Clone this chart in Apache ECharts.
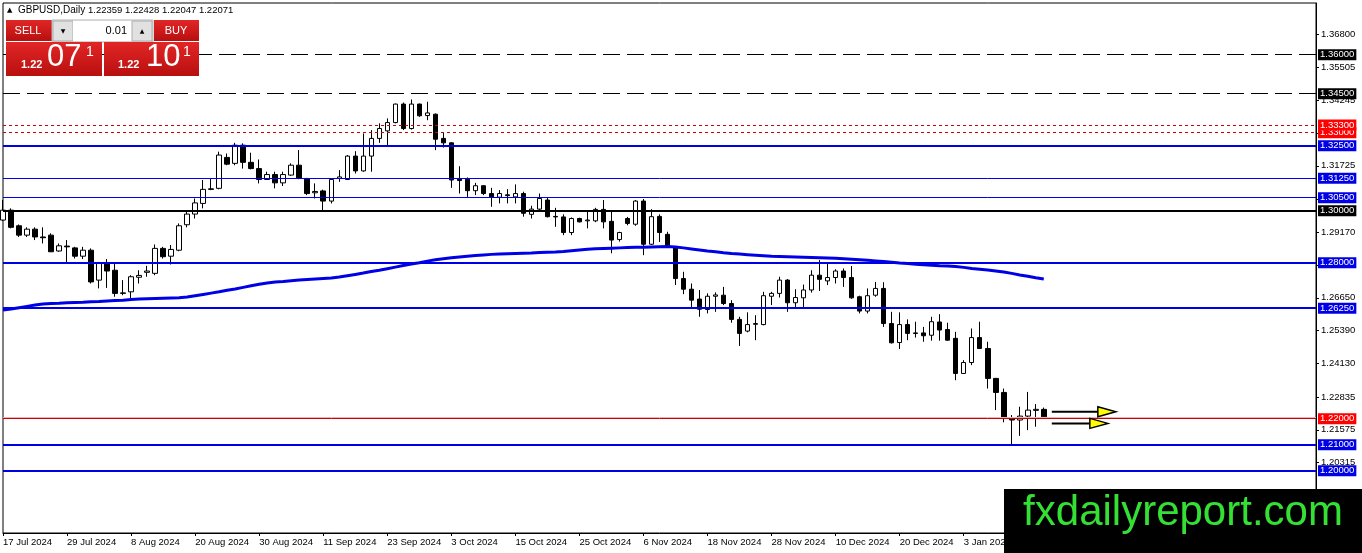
<!DOCTYPE html>
<html>
<head>
<meta charset="utf-8">
<script src="https://cdn.jsdelivr.net/npm/echarts@6/dist/echarts.min.js"></script>
<style>html,body{margin:0;padding:0;background:#fff;}#c{width:1362px;height:553px;}</style>
</head>
<body>
<div id="c"></div>
<script>
// ---- categories (trading days) ----
const dates = [
'17 Jul 2024','18 Jul 2024','19 Jul 2024','22 Jul 2024','23 Jul 2024','24 Jul 2024','25 Jul 2024','26 Jul 2024','29 Jul 2024','30 Jul 2024','31 Jul 2024',
'1 Aug 2024','2 Aug 2024','5 Aug 2024','6 Aug 2024','7 Aug 2024','8 Aug 2024','9 Aug 2024','12 Aug 2024','13 Aug 2024','14 Aug 2024','15 Aug 2024','16 Aug 2024','19 Aug 2024','20 Aug 2024','21 Aug 2024','22 Aug 2024','23 Aug 2024','26 Aug 2024','27 Aug 2024','28 Aug 2024','29 Aug 2024','30 Aug 2024',
'2 Sep 2024','3 Sep 2024','4 Sep 2024','5 Sep 2024','6 Sep 2024','9 Sep 2024','10 Sep 2024','11 Sep 2024','12 Sep 2024','13 Sep 2024','16 Sep 2024','17 Sep 2024','18 Sep 2024','19 Sep 2024','20 Sep 2024','23 Sep 2024','24 Sep 2024','25 Sep 2024','26 Sep 2024','27 Sep 2024','30 Sep 2024',
'1 Oct 2024','2 Oct 2024','3 Oct 2024','4 Oct 2024','7 Oct 2024','8 Oct 2024','9 Oct 2024','10 Oct 2024','11 Oct 2024','14 Oct 2024','15 Oct 2024','16 Oct 2024','17 Oct 2024','18 Oct 2024','21 Oct 2024','22 Oct 2024','23 Oct 2024','24 Oct 2024','25 Oct 2024','28 Oct 2024','29 Oct 2024','30 Oct 2024','31 Oct 2024',
'1 Nov 2024','4 Nov 2024','5 Nov 2024','6 Nov 2024','7 Nov 2024','8 Nov 2024','11 Nov 2024','12 Nov 2024','13 Nov 2024','14 Nov 2024','15 Nov 2024','18 Nov 2024','19 Nov 2024','20 Nov 2024','21 Nov 2024','22 Nov 2024','25 Nov 2024','26 Nov 2024','27 Nov 2024','28 Nov 2024','29 Nov 2024',
'2 Dec 2024','3 Dec 2024','4 Dec 2024','5 Dec 2024','6 Dec 2024','9 Dec 2024','10 Dec 2024','11 Dec 2024','12 Dec 2024','13 Dec 2024','16 Dec 2024','17 Dec 2024','18 Dec 2024','19 Dec 2024','20 Dec 2024','23 Dec 2024','24 Dec 2024','26 Dec 2024','27 Dec 2024','30 Dec 2024','31 Dec 2024',
'2 Jan 2025','3 Jan 2025','6 Jan 2025','7 Jan 2025','8 Jan 2025','9 Jan 2025','10 Jan 2025','13 Jan 2025','14 Jan 2025','15 Jan 2025','16 Jan 2025','17 Jan 2025'
];
const futureSlots = 34; // empty right-hand space of the chart (bars)

// ---- OHLC values ----
const opens = [
1.2964,1.3002,1.2942,1.2906,1.2929,1.2899,1.2906,1.2845,1.2864,1.2857,
1.2825,1.2848,1.2733,1.2797,1.2771,1.2682,1.2688,1.2744,1.2763,1.2759,
1.2855,1.2825,1.2848,1.2946,1.2987,1.3028,1.3084,1.3086,1.3205,1.3182,
1.3252,1.3186,1.3162,1.3120,1.3139,1.3107,1.3137,1.3175,1.3124,1.3069,
1.3076,1.3037,1.3124,1.3120,1.3210,1.3153,1.3210,1.3278,1.3307,1.3339,
1.3410,1.3316,1.3410,1.3366,1.3371,1.3278,1.3261,1.3124,1.3121,1.3077,
1.3096,1.3066,1.3052,1.3061,1.3053,1.3066,1.2986,1.3006,1.3041,1.2978,
1.2976,1.2916,1.2970,1.2961,1.2961,1.3005,1.2959,1.2889,1.2970,1.2948,
1.3037,1.2871,1.2978,1.2909,1.2861,1.2739,1.2698,1.2660,1.2620,1.2671,
1.2675,1.2643,1.2582,1.2537,1.2563,1.2562,1.2671,1.2682,1.2733,1.2646,
1.2665,1.2695,1.2752,1.2730,1.2743,1.2768,1.2743,1.2669,1.2614,1.2675,
1.2701,1.2566,1.2493,1.2562,1.2530,1.2530,1.2521,1.2572,1.2543,1.2509,
1.2374,1.2416,1.2512,1.2470,1.2355,1.2301,1.2203,1.2195,1.2210,1.2232,
1.22359];
const closes = [
1.3002,1.2936,1.2906,1.2929,1.2899,1.2896,1.2842,1.2865,1.2861,1.2825,
1.2848,1.2726,1.2797,1.2768,1.2682,1.2684,1.2746,1.2751,1.2768,1.2855,
1.2823,1.2851,1.2942,1.2987,1.3030,1.3082,1.3082,1.3214,1.3179,1.3252,
1.3186,1.3162,1.3120,1.3139,1.3107,1.3139,1.3175,1.3124,1.3066,1.3074,
1.3037,1.3120,1.3130,1.3210,1.3153,1.3210,1.3278,1.3316,1.3339,1.3410,
1.3316,1.3410,1.3365,1.3376,1.3275,1.3261,1.3118,1.3116,1.3077,1.3096,
1.3066,1.3053,1.3066,1.3058,1.3066,1.2990,1.3006,1.3047,1.2977,1.2976,
1.2916,1.2970,1.2957,1.2964,1.3005,1.2957,1.2887,1.2916,1.2951,1.3037,
1.2871,1.2977,1.2916,1.2861,1.2739,1.2698,1.2656,1.2621,1.2671,1.2676,
1.2643,1.2582,1.2528,1.2562,1.2566,1.2673,1.2682,1.2733,1.2646,1.2666,
1.2695,1.2752,1.2736,1.2743,1.2768,1.2743,1.2665,1.2614,1.2673,1.2701,
1.2566,1.2492,1.2562,1.2528,1.2528,1.2519,1.2573,1.2541,1.2502,1.2374,
1.2416,1.2512,1.2470,1.2355,1.2301,1.2201,1.2195,1.2210,1.2233,1.2236,
1.22071];
const lows = [
1.2961,1.2932,1.2899,1.2899,1.2887,1.2874,1.2841,1.2842,1.2803,1.2816,
1.2814,1.2720,1.2701,1.2703,1.2669,1.2675,1.2662,1.2720,1.2746,1.2752,
1.2816,1.2793,1.2844,1.2936,1.2970,1.3009,1.3079,1.3082,1.3175,1.3175,
1.3162,1.3159,1.3105,1.3118,1.3086,1.3095,1.3134,1.3121,1.3060,1.3047,
1.3002,1.3028,1.3111,1.3118,1.3143,1.3150,1.3150,1.3261,1.3252,1.3336,
1.3310,1.3312,1.3361,1.3348,1.3233,1.3243,1.3088,1.3066,1.3053,1.3060,
1.3060,1.3015,1.3028,1.3028,1.3028,1.2977,1.2970,1.3002,1.2974,1.2938,
1.2906,1.2906,1.2955,1.2932,1.2956,1.2932,1.2836,1.2881,1.2944,1.2942,
1.2829,1.2868,1.2880,1.2860,1.2714,1.2679,1.2624,1.2592,1.2605,1.2611,
1.2637,1.2569,1.2480,1.2532,1.2502,1.2559,1.2637,1.2666,1.2611,1.2627,
1.2624,1.2685,1.2691,1.2714,1.2720,1.2707,1.2661,1.2605,1.2605,1.2669,
1.2553,1.2489,1.2468,1.2502,1.2512,1.2496,1.2500,1.2500,1.2500,1.2348,
1.2372,1.2406,1.2468,1.2316,1.2233,1.2186,1.2100,1.2134,1.2156,1.2169,
1.22047];
const highs = [
1.3041,1.3009,1.2947,1.2936,1.2936,1.2936,1.2913,1.2874,1.2887,1.2861,
1.2861,1.2855,1.2803,1.2814,1.2797,1.2733,1.2752,1.2771,1.2788,1.2870,
1.2861,1.2868,1.2951,1.2998,1.3047,1.3118,1.3124,1.3227,1.3220,1.3261,
1.3259,1.3223,1.3197,1.3150,1.3150,1.3150,1.3182,1.3233,1.3126,1.3105,
1.3081,1.3124,1.3156,1.3214,1.3229,1.3297,1.3310,1.3336,1.3355,1.3412,
1.3416,1.3428,1.3412,1.3419,1.3374,1.3300,1.3264,1.3171,1.3128,1.3107,
1.3098,1.3088,1.3079,1.3083,1.3101,1.3073,1.3019,1.3066,1.3050,1.3011,
1.2986,1.2974,1.2973,1.2998,1.3011,1.3041,1.2996,1.2919,1.2976,1.3041,
1.3045,1.3006,1.2986,1.2919,1.2864,1.2765,1.2720,1.2695,1.2682,1.2686,
1.2707,1.2656,1.2592,1.2609,1.2598,1.2688,1.2688,1.2746,1.2737,1.2698,
1.2716,1.2771,1.2810,1.2797,1.2775,1.2778,1.2787,1.2673,1.2701,1.2726,
1.2725,1.2611,1.2609,1.2582,1.2573,1.2553,1.2592,1.2602,1.2569,1.2534,
1.2425,1.2547,1.2573,1.2496,1.2357,1.2316,1.2214,1.2246,1.2303,1.2256,
1.22428];

// ---- moving average (blue curve) ----
const maValues = [
1.2618,1.2622,1.2627,1.2632,1.2637,1.2641,1.2643,1.2644,1.2646,1.2647,
1.2648,1.2650,1.2651,1.2653,1.2655,1.2656,1.2658,1.2660,1.2661,1.2662,
1.2663,1.2664,1.2665,1.2668,1.2673,1.2678,1.2683,1.2688,1.2694,1.2699,
1.2705,1.2711,1.2717,1.2722,1.2726,1.2728,1.2731,1.2733,1.2735,1.2737,
1.2739,1.2741,1.2745,1.2750,1.2755,1.2760,1.2766,1.2771,1.2777,1.2783,
1.2789,1.2795,1.2800,1.2806,1.2811,1.2815,1.2819,1.2822,1.2825,1.2828,
1.2830,1.2832,1.2833,1.2834,1.2835,1.2836,1.2837,1.2839,1.2840,1.2841,
1.2843,1.2846,1.2849,1.2852,1.2854,1.2855,1.2856,1.2857,1.2858,1.2859,
1.2859,1.2860,1.2861,1.2862,1.2860,1.2857,1.2853,1.2849,1.2845,1.2842,
1.2838,1.2835,1.2833,1.2831,1.2829,1.2827,1.2825,1.2824,1.2823,1.2822,
1.2821,1.2820,1.2819,1.2818,1.2817,1.2815,1.2813,1.2811,1.2809,1.2807,
1.2805,1.2802,1.2799,1.2797,1.2794,1.2792,1.2790,1.2788,1.2787,1.2785,
1.2782,1.2778,1.2775,1.2772,1.2768,1.2764,1.2759,1.2753,1.2748,1.2742,
1.2737];

// ---- horizontal levels ----
const levelPrices = [1.36000, 1.34500, 1.33000, 1.33300, 1.32500, 1.31250, 1.30500, 1.30000, 1.28000, 1.26250, 1.22000, 1.21000, 1.20000];
const levelKinds  = ['blackDash','blackDash','redDot','redDot','blueThick','blueThin','blueThin','blackThick','blueThick','blueThick','redSolid','blueThick','blueThick'];

// ---- right axis tick labels ----
const yTickValues = [1.36800,1.35505,1.34245,1.32985,1.31725,1.30455,1.29170,1.27910,1.26650,1.25390,1.24130,1.22835,1.21575,1.20315];

// ---- arrows ----
const arrowStart = [131, 131];
const arrowEnd   = [139, 138];
const arrowPrice = [1.2227, 1.2182];

// ---------------------------------------------------------------
const BLUE = '#0000e6';
const kindStyle = {
  blackDash:  {line:{color:'#000', width:1, type:[17,7]}, box:'#000'},
  redDot:     {line:{color:'#cc0000', width:1, type:[3,3]}, box:'#ff0000'},
  blueThick:  {line:{color:BLUE, width:2, type:'solid'}, box:BLUE},
  blueThin:   {line:{color:BLUE, width:1, type:'solid'}, box:BLUE},
  blackThick: {line:{color:'#000', width:2, type:'solid'}, box:'#000'},
  redSolid:   {line:{color:'#cc0000', width:1, type:'solid'}, box:'#ff0000'}
};
const FONT = 'Liberation Sans';

const xCats = dates.concat(new Array(futureSlots).fill(''));
const candleData = opens.map((o, i) => [o, closes[i], lows[i], highs[i]]);
const lastClose = closes[closes.length - 1];

const levelLines = levelPrices.map((p, i) => {
  const st = kindStyle[levelKinds[i]];
  return {
    yAxis: p,
    lineStyle: st.line,
    label: {
      show: true, position: 'end', distance: 2,
      formatter: p.toFixed(5),
      color: '#fff', backgroundColor: st.box,
      fontFamily: FONT, fontSize: 9.5, lineHeight: 10,
      padding: [1, 2, 0, 2]
    }
  };
});
levelLines.unshift({
  yAxis: lastClose,
  lineStyle: {color: '#e8b4b4', width: 1, type: 'solid'},
  label: {show: false}
});

const arrowData = arrowStart.map((s, i) => [s, arrowPrice[i], arrowEnd[i]]);

const redGrad = {type:'linear', x:0, y:0, x2:0, y2:1, colorStops:[{offset:0, color:'#e22626'},{offset:1, color:'#b80f0f'}]};

const chart = echarts.init(document.getElementById('c'), null, {renderer: 'canvas'});
chart.setOption({
  animation: false,
  backgroundColor: '#fff',
  grid: {left: 3, right: 46, top: 3, bottom: 20, show: true, borderColor: '#000', borderWidth: 1, backgroundColor: '#fff'},
  xAxis: {
    type: 'category', data: xCats, boundaryGap: false,
    axisLine: {show: true, lineStyle: {color: '#000', width: 1}},
    axisTick: {show: true, interval: 7, length: 3, lineStyle: {color: '#000'}},
    axisLabel: {interval: 7, align: 'left', color: '#000', fontFamily: FONT, fontSize: 9.5, margin: 4},
    splitLine: {show: false}
  },
  yAxis: {
    type: 'value', position: 'right', min: 1.17604, max: 1.37988, scale: true,
    axisLine: {show: true, lineStyle: {color: '#000', width: 1}},
    axisTick: {show: true, length: 3, customValues: yTickValues, lineStyle: {color: '#000'}},
    axisLabel: {customValues: yTickValues, formatter: v => v.toFixed(5), color: '#000', fontFamily: FONT, fontSize: 9.5, margin: 5},
    splitLine: {show: false}
  },
  series: [
    {
      type: 'candlestick', name: 'GBPUSD', data: candleData, barWidth: 5, z: 2,
      itemStyle: {color: '#ffffff', color0: '#000000', borderColor: '#000000', borderColor0: '#000000', borderWidth: 1}
    },
    {
      type: 'line', name: 'MA', data: maValues, showSymbol: false, symbol: 'none', z: 3,
      lineStyle: {color: BLUE, width: 3}
    },
    {
      type: 'line', name: 'levels', data: [], z: 4, silent: true,
      markLine: {silent: true, precision: 5, symbol: ['none', 'none'], animation: false, data: levelLines}
    },
    {
      type: 'custom', name: 'arrows', data: arrowData, z: 5, silent: true,
      encode: {x: 0, y: 1},
      renderItem: function (params, api) {
        const y = api.value(1);
        const p0 = api.coord([api.value(0), y]);
        const p1 = api.coord([api.value(2), y]);
        const L = 18, H = 5;
        return {type: 'group', children: [
          {type: 'line', shape: {x1: p0[0], y1: p0[1], x2: p1[0] - L + 1, y2: p1[1]}, style: {stroke: '#000', lineWidth: 2}},
          {type: 'polygon', shape: {points: [[p1[0] - L, p1[1] - H], [p1[0], p1[1]], [p1[0] - L, p1[1] + H]]}, style: {fill: '#ffff00', stroke: '#000', lineWidth: 1.5}}
        ]};
      }
    }
  ],
  graphic: [
    // header
    {type: 'text', z: 100, style: {x: 7, y: 10, text: '▲', font: '7px DejaVu Sans', fill: '#000', verticalAlign: 'middle'}},
    {type: 'text', z: 100, style: {x: 18, y: 10, text: 'GBPUSD,Daily', font: '10px ' + FONT, fill: '#000', verticalAlign: 'middle'}},
    {type: 'text', z: 100, style: {x: 88, y: 10, text: [opens[opens.length-1], highs[highs.length-1], lows[lows.length-1], closes[closes.length-1]].map(v => v.toFixed(5)).join(' '), font: '9.5px ' + FONT, fill: '#000', verticalAlign: 'middle'}},
    // SELL button
    {type: 'rect', z: 100, shape: {x: 6, y: 20, width: 46, height: 21}, style: {fill: redGrad}},
    {type: 'text', z: 101, style: {x: 28, y: 31, text: 'SELL', font: '11px ' + FONT, fill: '#fff', align: 'center', verticalAlign: 'middle'}},
    // lot control
    {type: 'rect', z: 100, shape: {x: 52, y: 20, width: 101, height: 22}, style: {fill: '#f0f0f0', stroke: '#b5b5b5', lineWidth: 1}},
    {type: 'rect', z: 101, shape: {x: 53, y: 21, width: 20, height: 20}, style: {fill: '#e1e1e1', stroke: '#adadad', lineWidth: 1}},
    {type: 'text', z: 102, style: {x: 63, y: 31, text: '▼', font: '6px DejaVu Sans', fill: '#000', align: 'center', verticalAlign: 'middle'}},
    {type: 'rect', z: 101, shape: {x: 73, y: 21, width: 59, height: 20}, style: {fill: '#fff'}},
    {type: 'text', z: 102, style: {x: 127, y: 31, text: '0.01', font: '11px ' + FONT, fill: '#000', align: 'right', verticalAlign: 'middle'}},
    {type: 'rect', z: 101, shape: {x: 132, y: 21, width: 20, height: 20}, style: {fill: '#e1e1e1', stroke: '#adadad', lineWidth: 1}},
    {type: 'text', z: 102, style: {x: 142, y: 31, text: '▲', font: '6px DejaVu Sans', fill: '#000', align: 'center', verticalAlign: 'middle'}},
    // BUY button
    {type: 'rect', z: 100, shape: {x: 154, y: 20, width: 45, height: 21}, style: {fill: redGrad}},
    {type: 'text', z: 101, style: {x: 176, y: 31, text: 'BUY', font: '11px ' + FONT, fill: '#fff', align: 'center', verticalAlign: 'middle'}},
    // price boxes
    {type: 'rect', z: 100, shape: {x: 6, y: 42, width: 96, height: 34}, style: {fill: redGrad}},
    {type: 'rect', z: 100, shape: {x: 104, y: 42, width: 95, height: 34}, style: {fill: redGrad}},
    {type: 'text', z: 101, style: {x: 21, y: 70, text: '1.22', font: 'bold 11px ' + FONT, fill: '#fff', verticalAlign: 'bottom'}},
    {type: 'text', z: 101, style: {x: 47, y: 73, text: '07', font: '31px ' + FONT, fill: '#fff', verticalAlign: 'bottom'}},
    {type: 'text', z: 101, style: {x: 86, y: 45, text: '1', font: '14px ' + FONT, fill: '#fff', verticalAlign: 'top'}},
    {type: 'text', z: 101, style: {x: 118, y: 70, text: '1.22', font: 'bold 11px ' + FONT, fill: '#fff', verticalAlign: 'bottom'}},
    {type: 'text', z: 101, style: {x: 146, y: 73, text: '10', font: '31px ' + FONT, fill: '#fff', verticalAlign: 'bottom'}},
    {type: 'text', z: 101, style: {x: 183, y: 45, text: '1', font: '14px ' + FONT, fill: '#fff', verticalAlign: 'top'}},
    // watermark
    {type: 'rect', z: 200, shape: {x: 1004, y: 489, width: 358, height: 64}, style: {fill: '#000'}},
    {type: 'text', z: 201, style: {x: 1183, y: 513, text: 'fxdailyreport.com', font: '42px ' + FONT, fill: '#35e035', align: 'center', verticalAlign: 'middle'}}
  ]
});
</script>
</body>
</html>
